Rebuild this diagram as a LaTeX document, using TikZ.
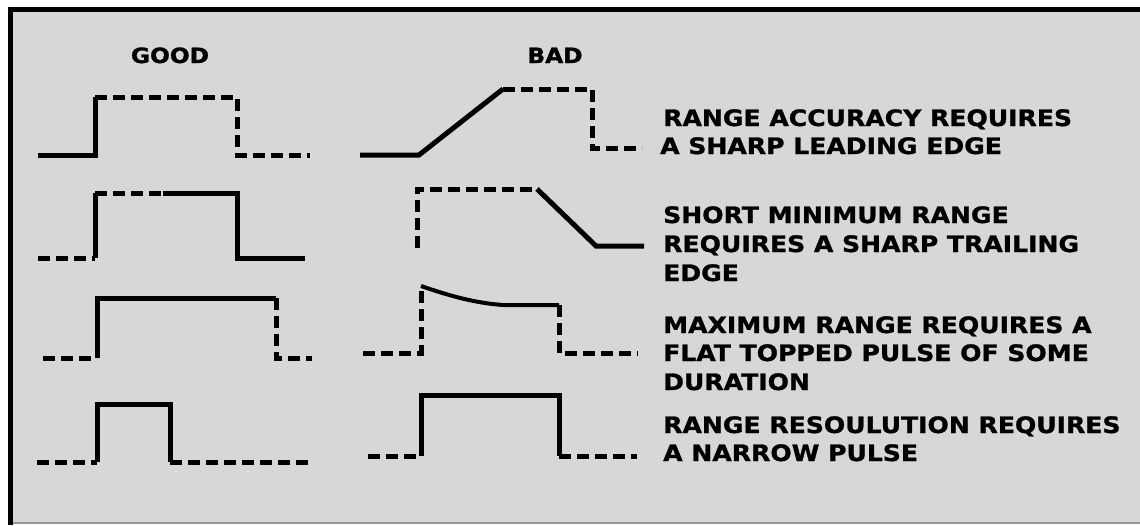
\documentclass[tikz,border=0pt]{standalone}
\usepackage{fontspec}
\newfontfamily\labfont[FakeStretch=1.11,FakeBold=1.2]{DejaVu Sans}
\definecolor{bggray}{RGB}{215,215,215}
\definecolor{edgegray}{RGB}{150,150,150}
\begin{document}
\begin{tikzpicture}[x=1pt,y=-1pt,
  sol/.style={line width=5pt,black,line join=miter},
  dsh/.style={line width=5pt,black,line join=miter,dash pattern=on 12pt off 6pt},
  lab/.style={anchor=base west,inner sep=0pt,font=\labfont\bfseries\fontsize{22.6}{28}\selectfont},
  ttl/.style={anchor=base,inner sep=0pt,font=\labfont\bfseries\fontsize{21}{26}\selectfont}]
\useasboundingbox (0,0) rectangle (1140,525);
\fill[white] (0,0) rectangle (1140,525);
\fill[bggray] (10.5,9.5) rectangle (1140,523);
\draw[edgegray,line width=1.2pt] (13,523) -- (1140,523);
\draw[black,line width=5pt] (8,9.5) -- (1140,9.5);
\draw[black,line width=5pt] (10.5,7) -- (10.5,525);

% titles
\node[ttl] (good) at (170,63) {GOOD};
\node[ttl] (bad) at (555,63) {BAD};

% GOOD row 1
\draw[sol] (38,155) -- (95,155) -- (95,97);
\draw[dsh] (95,97) -- (237,97) -- (237,155) -- (310,155);
% GOOD row 2
\draw[dsh] (38,258) -- (95,258);
\draw[sol] (95,258) -- (95,193);
\draw[dsh] (95,193) -- (163,193);
\draw[sol] (163,193) -- (237,193) -- (237,258) -- (305,258);
% GOOD row 3
\draw[dsh] (43,358) -- (97,358);
\draw[sol] (97,358) -- (97,298) -- (276,298);
\draw[dsh] (276,298) -- (276,358) -- (312,358);
% GOOD row 4
\draw[dsh] (37,462) -- (97,462);
\draw[sol] (97,462) -- (97,404) -- (170,404) -- (170,462);
\draw[dsh] (170,462) -- (310,462);

% BAD row 1
\draw[sol] (360,155) -- (419,155) -- (503,89);
\draw[dsh] (503,89) -- (592,89) -- (592,148) -- (642,148);
% BAD row 2
\draw[dsh] (417,248) -- (417,189) -- (537,189);
\draw[sol] (537,189) -- (596,246) -- (644,246);
% BAD row 3
\draw[dsh] (363,353) -- (421,353) -- (421,286);
\draw[sol,line width=4pt] (421,286) .. controls (450,296) and (475,303) .. (503,305) -- (559,305);
\draw[dsh] (559,305) -- (559,353) -- (638,353);
% BAD row 4
\draw[dsh] (368,456) -- (421,456);
\draw[sol] (421,456) -- (421,395) -- (559,395) -- (559,456);
\draw[dsh] (559,456) -- (637,456);

% captions
\node[lab] (c1a) at (663,126) {RANGE ACCURACY REQUIRES};
\node[lab] (c1b) at (660,154) {A SHARP LEADING EDGE};
\node[lab] (c2a) at (663,223) {SHORT MINIMUM RANGE};
\node[lab] (c2b) at (663,252) {REQUIRES A SHARP TRAILING};
\node[lab] (c2c) at (663,281) {EDGE};
\node[lab] (c3a) at (663,333) {MAXIMUM RANGE REQUIRES A};
\node[lab] (c3b) at (663,361) {FLAT TOPPED PULSE OF SOME};
\node[lab] (c3c) at (663,390) {DURATION};
\node[lab] (c4a) at (663,433) {RANGE RESOULUTION REQUIRES};
\node[lab] (c4b) at (663,461) {A NARROW PULSE};
\end{tikzpicture}
\end{document}
